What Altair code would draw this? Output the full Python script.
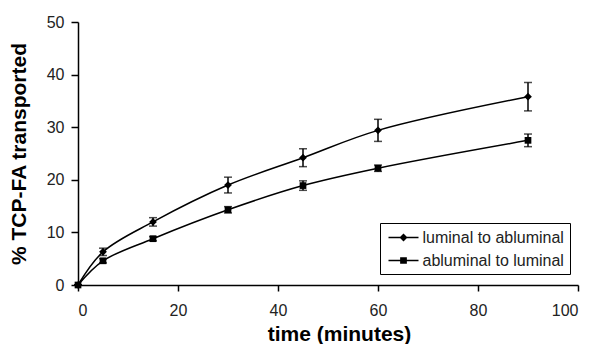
import altair as alt
import pandas as pd

times = [0, 5, 15, 30, 45, 60, 90]
lum_to_ablum = [0, 6.3, 12.0, 19.0, 24.2, 29.4, 35.8]
lum_to_ablum_err = [0, 0.7, 0.8, 1.5, 1.7, 2.1, 2.7]
ablum_to_lum = [0, 4.6, 8.8, 14.3, 18.9, 22.2, 27.5]
ablum_to_lum_err = [0, 0.4, 0.4, 0.6, 0.9, 0.6, 1.2]
series_names = ["luminal to abluminal", "abluminal to luminal"]

rows = []
for name, vals, errs in [(series_names[0], lum_to_ablum, lum_to_ablum_err),
                         (series_names[1], ablum_to_lum, ablum_to_lum_err)]:
    for t, v, e in zip(times, vals, errs):
        rows.append({"time": t, "value": v, "lo": v - e, "hi": v + e, "series": name})
df = pd.DataFrame(rows)

FONT = "Liberation Sans"
xscale = alt.Scale(domain=[0, 100], nice=False)
yscale = alt.Scale(domain=[0, 50], nice=False)

xenc = alt.X("time:Q", scale=xscale,
             axis=alt.Axis(title="time (minutes)", values=[0, 20, 40, 60, 80, 100],
                           grid=False, tickSize=6, labelPadding=11, labelFontSize=16,
                           titleFontSize=21, titleFontWeight="bold", titlePadding=5,
                           titleX=261, titleAlign="center",
                           domainColor="black", tickColor="black", labelColor="#222",
                           titleColor="black", labelFont=FONT, titleFont=FONT,
                           domainWidth=1.5, tickWidth=1.5))
yenc = alt.Y("value:Q", scale=yscale,
             axis=alt.Axis(title="% TCP-FA transported", values=[0, 10, 20, 30, 40, 50],
                           grid=False, tickSize=7, labelPadding=7, labelFontSize=16,
                           titleFontSize=21, titleFontWeight="bold", titlePadding=17,
                           domainColor="black", tickColor="black", labelColor="#222",
                           titleColor="black", labelFont=FONT, titleFont=FONT,
                           domainWidth=1.5, tickWidth=1.5))

base = alt.Chart(df)

lines = base.mark_line(color="black", strokeWidth=1.5, interpolate="catmull-rom").encode(
    x=xenc, y=yenc, detail="series:N")

err_rules = base.mark_rule(color="black", strokeWidth=1.5).encode(
    x="time:Q", y="lo:Q", y2="hi:Q")
caps_lo = base.mark_tick(color="black", thickness=1.5, size=8, orient="horizontal").encode(
    x="time:Q", y="lo:Q")
caps_hi = base.mark_tick(color="black", thickness=1.5, size=8, orient="horizontal").encode(
    x="time:Q", y="hi:Q")

pts_lum = base.transform_filter(alt.datum.series == series_names[0]).mark_point(
    filled=True, color="black", opacity=1, size=60, shape="diamond").encode(
    x="time:Q", y="value:Q")
pts_abl = base.transform_filter(alt.datum.series == series_names[1]).mark_point(
    filled=True, color="black", opacity=1, size=45, shape="square").encode(
    x="time:Q", y="value:Q")

# legend glyphs: a thin filled bar (the line) plus the marker
legend_paths = [
    "M-1.875,-0.1L1.875,-0.1L1.875,0.1L-1.875,0.1Z"
    "M0,-0.5L0.5,0L0,0.5L-0.5,0Z",
    "M-1.875,-0.1L1.875,-0.1L1.875,0.1L-1.875,0.1Z"
    "M-0.42,-0.42L0.42,-0.42L0.42,0.42L-0.42,0.42Z",
]
legend_layer = base.mark_point(filled=True, fill="black", stroke="black", strokeWidth=1.5,
                               opacity=0, size=1).encode(
    x="time:Q", y="value:Q",
    shape=alt.Shape("series:N", sort=series_names,
                    scale=alt.Scale(domain=series_names, range=legend_paths),
                    legend=alt.Legend(title=None, orient="none", legendX=302, legendY=201,
                                      strokeColor="black", padding=5.5, symbolSize=256,
                                      symbolOpacity=1, symbolFillColor="black",
                                      symbolStrokeColor="black", symbolStrokeWidth=1.5,
                                      symbolOffset=9, labelOffset=10, rowPadding=6,
                                      labelFontSize=16, labelFont=FONT, labelColor="#222",
                                      fillColor="white")))

chart = alt.layer(lines, err_rules, caps_lo, caps_hi, pts_lum, pts_abl, legend_layer).properties(
    width=500, height=263,
    autosize=alt.AutoSizeParams(type="none"),
    padding={"left": 78, "top": 22, "right": 17, "bottom": 59},
    background="white",
).configure_view(stroke=None)

chart.save("out.html", embed_options={"renderer": "svg", "actions": False})
